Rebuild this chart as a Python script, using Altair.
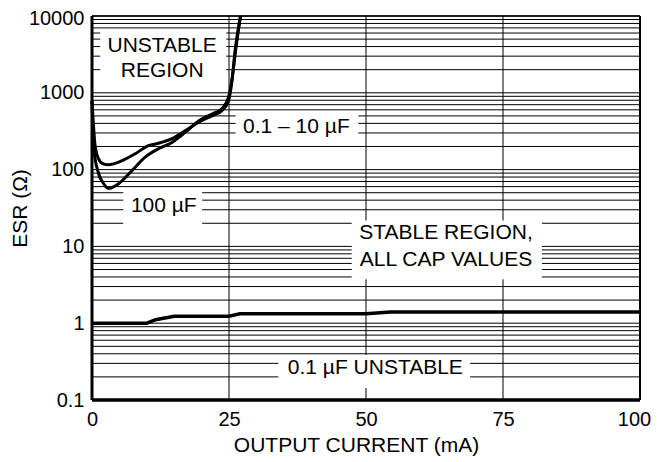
import altair as alt
import pandas as pd

FONT = "Liberation Sans, Arial, Helvetica, sans-serif"

# 0.1 - 10 uF boundary
c1_x = [0, 0.6, 1.2, 2.1, 3.0, 5.5, 7.9, 10.3, 12.1, 14.6, 17.0, 19.4, 21.9, 23.7, 24.9, 25.5, 26.1, 27.1]
c1_y = [787, 195, 138, 118, 116, 131, 161, 205, 220, 253, 321, 411, 502, 583, 787, 1350, 3500, 10000]
# 100 uF boundary
c2_x = [0, 0.3, 1.2, 2.1, 3.0, 4.9, 7.3, 9.7, 12.2, 14.6, 17.0, 19.5, 21.9, 23.7, 24.9, 25.6, 26.3, 27.1]
c2_y = [787, 195, 89, 66, 57, 66, 97, 145, 188, 226, 305, 433, 528, 620, 869, 1600, 4000, 10000]
# 0.1 uF lower boundary
c3_x = [0, 10, 11.6, 15, 25, 27, 50, 54.5, 100]
c3_y = [1.0, 1.0, 1.11, 1.23, 1.23, 1.33, 1.33, 1.40, 1.40]

x_ticks = [0, 25, 50, 75, 100]
y_ticks = [0.1, 1, 10, 100, 1000, 10000]
h_grid = [m * 10.0 ** k for k in range(-1, 4) for m in range(1, 10)] + [10000]
v_grid = [25, 50, 75]

# annotation labels
lab_text = ["UNSTABLE", "REGION", "0.1 \u2013 10 \u00b5F", "100 \u00b5F",
            "STABLE REGION,", "ALL CAP VALUES", "0.1 \u00b5F UNSTABLE"]
lab_x = [12.8, 12.8, 37.3, 13.1, 64.6, 64.6, 51.7]
lab_y = [4075, 1932, 354, 34, 14.8, 6.57, 0.261]

# white label boxes behind the annotations
box_x1 = [1.5, 26.2, 5.7, 47.4, 34.0]
box_x2 = [24.5, 48.6, 20.1, 82.1, 69.0]
box_y1 = [1233, 245, 18.2, 3.73, 0.143]
box_y2 = [6780, 550, 55, 21.8, 0.384]

curves = pd.DataFrame(
    [{"x": a, "y": b, "s": "c1"} for a, b in zip(c1_x, c1_y)]
    + [{"x": a, "y": b, "s": "c2"} for a, b in zip(c2_x, c2_y)]
)
low = pd.DataFrame({"x": c3_x, "y": c3_y})
labels = pd.DataFrame({"t": lab_text, "x": lab_x, "y": lab_y})
boxes = pd.DataFrame({"x1": box_x1, "x2": box_x2, "y1": box_y1, "y2": box_y2})
hg = pd.DataFrame({"y": h_grid})
vg = pd.DataFrame({"x": v_grid})

xs = alt.Scale(domain=[0, 100], nice=False)
ys = alt.Scale(type="log", domain=[0.1, 10000], nice=False)

xaxis = alt.Axis(values=x_ticks, grid=False, ticks=False, domain=False, labelFlush=False,
                 labelFontSize=20, labelFont=FONT, labelColor="black", labelPadding=9,
                 labelOffset={"condition": {"test": "datum.value == 100", "value": -6}, "value": 0},
                 title="OUTPUT CURRENT (mA)", titleFontSize=21, titleFont=FONT,
                 titleFontWeight="normal", titleColor="black",
                 titleX=264, titleY=45, titleBaseline="middle")
yaxis = alt.Axis(values=y_ticks, grid=False, ticks=False, domain=False, labelFlush=False,
                 format="~g", labelFontSize=20, labelFont=FONT, labelColor="black",
                 labelPadding=8,
                 labelOffset={"condition": {"test": "datum.value == 10000", "value": 2}, "value": 0},
                 title="ESR (\u03a9)", titleFontSize=21, titleFont=FONT,
                 titleFontWeight="normal", titleColor="black",
                 titleX=-72, titleY=192, titleBaseline="middle")

base_axes = alt.Chart(hg).mark_rule(stroke="black", strokeWidth=1).encode(
    y=alt.Y("y:Q", scale=ys, axis=yaxis)
)
vrules = alt.Chart(vg).mark_rule(stroke="black", strokeWidth=1).encode(
    x=alt.X("x:Q", scale=xs, axis=xaxis)
)
rects = alt.Chart(boxes).mark_rect(fill="white").encode(
    x=alt.X("x1:Q", scale=xs), x2="x2:Q", y=alt.Y("y1:Q", scale=ys), y2="y2:Q"
)
texts = alt.Chart(labels).mark_text(fontSize=21, font=FONT, color="black",
                                    align="center", baseline="middle").encode(
    x=alt.X("x:Q", scale=xs), y=alt.Y("y:Q", scale=ys), text="t:N"
)
curve_lines = alt.Chart(curves).mark_line(stroke="black", strokeWidth=3,
                                          interpolate="monotone").encode(
    x=alt.X("x:Q", scale=xs), y=alt.Y("y:Q", scale=ys), detail="s:N"
)
low_line = alt.Chart(low).mark_line(stroke="black", strokeWidth=3.5).encode(
    x=alt.X("x:Q", scale=xs), y=alt.Y("y:Q", scale=ys)
)
frame_left = alt.Chart(pd.DataFrame({"x": [0]})).mark_rule(stroke="black", strokeWidth=3).encode(
    x=alt.X("x:Q", scale=xs))
frame_right = alt.Chart(pd.DataFrame({"x": [100]})).mark_rule(stroke="black", strokeWidth=2).encode(
    x=alt.X("x:Q", scale=xs))
frame_bottom = alt.Chart(pd.DataFrame({"y": [0.1]})).mark_rule(stroke="black", strokeWidth=3.5).encode(
    y=alt.Y("y:Q", scale=ys))
frame_top = alt.Chart(pd.DataFrame({"y": [10000]})).mark_rule(stroke="black", strokeWidth=1.5).encode(
    y=alt.Y("y:Q", scale=ys))

chart = alt.layer(
    base_axes, vrules, rects, texts, curve_lines, low_line,
    frame_left, frame_right, frame_bottom, frame_top
).properties(
    width=548, height=384,
    autosize=alt.AutoSizeParams(type="none"),
    padding={"left": 84, "top": 8, "right": 11, "bottom": 57},
    background="white",
).configure_view(stroke=None)

chart.save("out.html", embed_options={"renderer": "svg", "actions": False})
